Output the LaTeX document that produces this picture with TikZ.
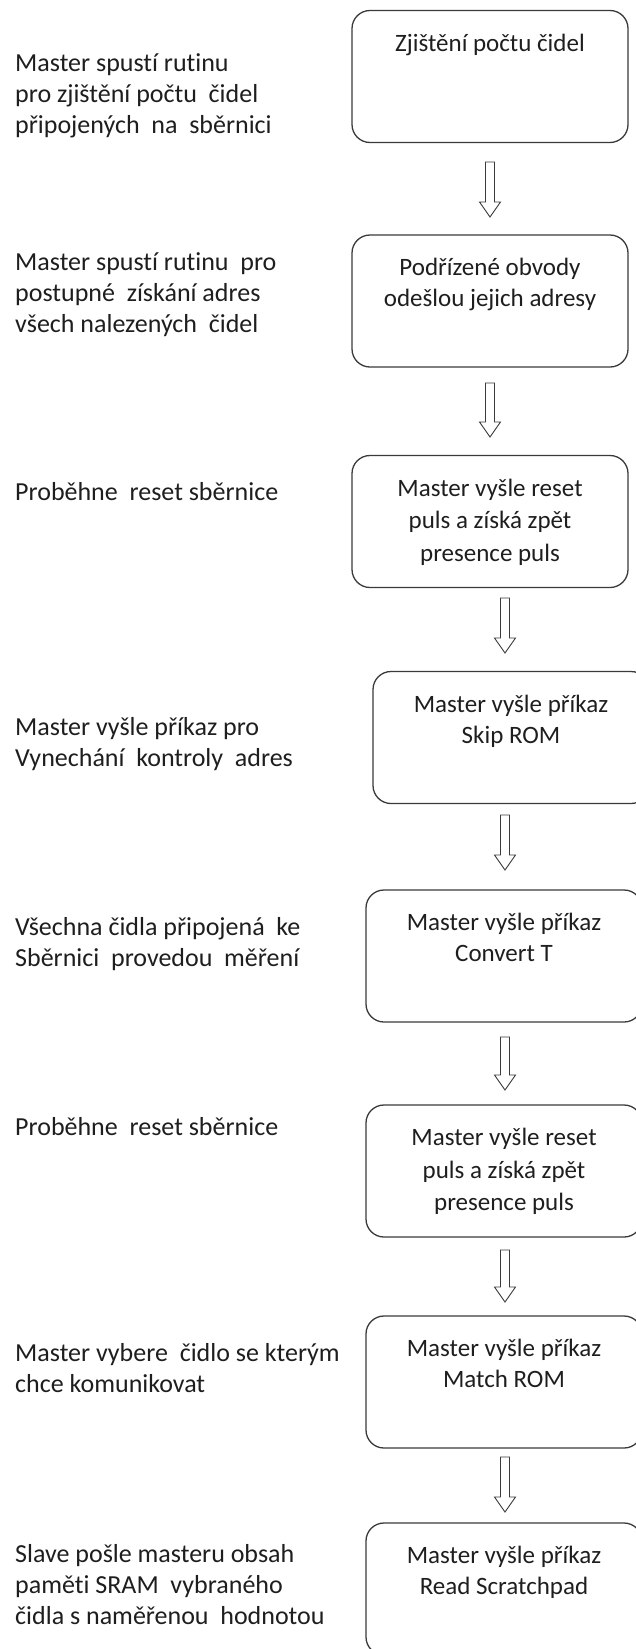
\documentclass[tikz,border=0pt]{standalone}
\usepackage{fontspec}
\setmainfont{Carlito}[Ligatures={NoCommon}]
\usetikzlibrary{calc}
\definecolor{linec}{HTML}{3A3A3A}
\definecolor{txtc}{HTML}{1E1E1E}
\tikzset{
  box/.style={draw=linec, line width=1.3pt, rounded corners=18pt, minimum width=276pt, minimum height=132pt, inner sep=0pt},
  lt/.style={anchor=north west, inner sep=0pt, align=left, text=txtc, yshift=21.7pt, font=\fontsize{26}{31}\selectfont},
  bt/.style={anchor=north, inner sep=0pt, align=center, text=txtc, yshift=-19.3pt, font=\fontsize{25}{31}\selectfont},
  btt/.style={anchor=north, inner sep=0pt, align=center, text=txtc, yshift=-18.6pt, font=\fontsize{25}{32.5}\selectfont},
  barrow/.style={draw=linec, line width=0.9pt, line join=miter, fill=white}
}
\newcommand\blockarrow[2]{\draw[barrow] let \p1=(#1), \p2=(#2) in
  (\x1-4.5pt,\y1) -- (\x1+4.5pt,\y1) -- (\x1+4.5pt,\y2+15pt) -- (\x1+10.5pt,\y2+15pt)
  -- (\x2,\y2) -- (\x1-10.5pt,\y2+15pt) -- (\x1-4.5pt,\y2+15pt) -- cycle;}
\begin{document}
\begin{tikzpicture}[x=1pt,y=-1pt]
\useasboundingbox (0,0) rectangle (636,1649);
% boxes
\node[box] (b1) at (490,76.5) {};
\node[box] (b2) at (490,301) {};
\node[box] (b3) at (490,521.5) {};
\node[box] (b4) at (511,737.5) {};
\node[box] (b5) at (504,956) {};
\node[box] (b6) at (504,1171) {};
\node[box] (b7) at (504,1382) {};
\node[box] (b8) at (504,1589) {};
% box texts
\node[bt] (t1) at (b1.north) {\strut Zjištění počtu čidel};
\node[bt] (t2) at (b2.north) {\strut Podřízené obvody\\\strut odešlou jejich adresy};
\node[btt] (t3) at (b3.north) {\strut Master vyšle reset\\\strut puls a získá zpět\\\strut presence puls};
\node[bt] (t4) at (b4.north) {\strut Master vyšle příkaz\\\strut Skip ROM};
\node[bt] (t5) at (b5.north) {\strut Master vyšle příkaz\\\strut Convert T};
\node[btt] (t6) at (b6.north) {\strut Master vyšle reset\\\strut puls a získá zpět\\\strut presence puls};
\node[bt] (t7) at (b7.north) {\strut Master vyšle příkaz\\\strut Match ROM};
\node[bt] (t8) at (b8.north) {\strut Master vyšle příkaz\\\strut Read Scratchpad};
% left texts
\node[lt] (l1) at (15,71) {\strut Master spustí rutinu\\\strut pro zjištění počtu\ \ čidel\\\strut připojených\ \ na\ \ sběrnici};
\node[lt] (l2) at (15,270) {\strut Master spustí rutinu\ \ pro\\\strut postupné\ \ získání adres\\\strut všech nalezených\ \ čidel};
\node[lt] (l3) at (15,500) {\strut Proběhne\ \ reset sběrnice};
\node[lt] (l4) at (15,735) {\strut Master vyšle příkaz pro\\\strut Vynechání\ \ kontroly\ \ adres};
\node[lt] (l5) at (15,935) {\strut Všechna čidla připojená\ \ ke\\\strut Sběrnici\ \ provedou\ \ měření};
\node[lt] (l6) at (15,1135) {\strut Proběhne\ \ reset sběrnice};
\node[lt] (l7) at (15,1361) {\strut Master vybere\ \ čidlo se kterým\\\strut chce komunikovat};
\node[lt] (l8) at (15,1562) {\strut Slave pošle masteru obsah\\\strut paměti SRAM\ \ vybraného\\\strut čidla s naměřenou\ \ hodnotou};
% arrows
\coordinate (a1t) at (490,162);  \coordinate (a1h) at (490,217);
\coordinate (a2t) at (490,383);  \coordinate (a2h) at (490,437);
\coordinate (a3t) at (505,598);  \coordinate (a3h) at (505,653);
\coordinate (a4t) at (505,815);  \coordinate (a4h) at (505,870);
\coordinate (a5t) at (505,1037); \coordinate (a5h) at (505,1090);
\coordinate (a6t) at (505,1250); \coordinate (a6h) at (505,1302);
\coordinate (a7t) at (505,1457); \coordinate (a7h) at (505,1512);
\blockarrow{a1t}{a1h}
\blockarrow{a2t}{a2h}
\blockarrow{a3t}{a3h}
\blockarrow{a4t}{a4h}
\blockarrow{a5t}{a5h}
\blockarrow{a6t}{a6h}
\blockarrow{a7t}{a7h}
\end{tikzpicture}
\end{document}
